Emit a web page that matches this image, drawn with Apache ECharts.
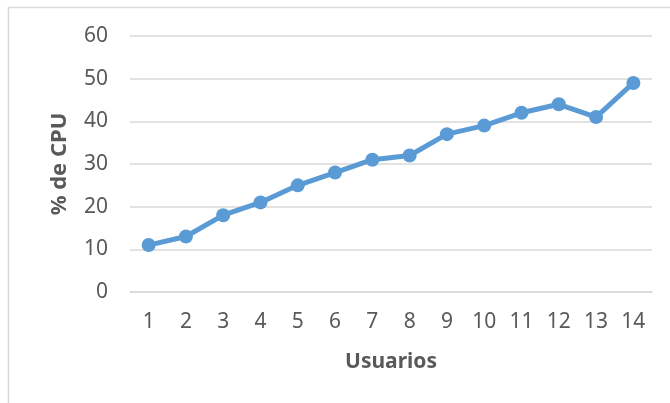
<!DOCTYPE html>
<html>
<head>
<meta charset="utf-8">
<script src="https://cdn.jsdelivr.net/npm/echarts@6/dist/echarts.min.js"></script>
<style>
html,body{margin:0;padding:0;background:#fff;}
#chart{width:670px;height:403px;}
</style>
</head>
<body>
<div id="chart"></div>
<script>
var categories = ['1','2','3','4','5','6','7','8','9','10','11','12','13','14'];
var cpuValues = [11,13,18,21,25,28,31,32,37,39,42,44,41,49];
var yMin = 0, yMax = 60, yInterval = 10;
var xTitle = 'Usuarios';
var yTitle = '% de CPU';

var chart = echarts.init(document.getElementById('chart'), null, {renderer:'canvas'});
var font = '"Noto Sans", "Open Sans", sans-serif';
chart.setOption({
  animation: false,
  backgroundColor: '#ffffff',
  graphic: [{
    type: 'rect',
    shape: {x: 8.5, y: 7.5, width: 700, height: 500},
    style: {fill: 'none', stroke: '#d9d9d9', lineWidth: 1.5},
    silent: true
  }],
  grid: {left: 130, right: 18, top: 36, bottom: 111, containLabel: false},
  xAxis: {
    type: 'category',
    data: categories,
    boundaryGap: true,
    axisLine: {show: true, lineStyle: {color: '#d9d9d9', width: 1.5}},
    axisTick: {show: false},
    axisLabel: {color: '#595959', fontSize: 21, fontFamily: font, margin: 20},
    name: xTitle,
    nameLocation: 'middle',
    nameGap: 60,
    nameTextStyle: {color: '#595959', fontSize: 21, fontWeight: 'bold', fontFamily: font}
  },
  yAxis: {
    type: 'value',
    min: yMin, max: yMax, interval: yInterval,
    axisLine: {show: false},
    axisTick: {show: false},
    splitLine: {lineStyle: {color: '#d9d9d9', width: 1.5}},
    axisLabel: {color: '#595959', fontSize: 21, fontFamily: font, margin: 22},
    name: yTitle,
    nameLocation: 'middle',
    nameGap: 59,
    nameTextStyle: {color: '#595959', fontSize: 22, fontWeight: 'bold', fontFamily: font}
  },
  series: [{
    type: 'line',
    data: cpuValues,
    symbol: 'circle',
    symbolSize: 14,
    lineStyle: {color: '#5b9bd5', width: 5},
    itemStyle: {color: '#5b9bd5'}
  }]
});
</script>
</body>
</html>
